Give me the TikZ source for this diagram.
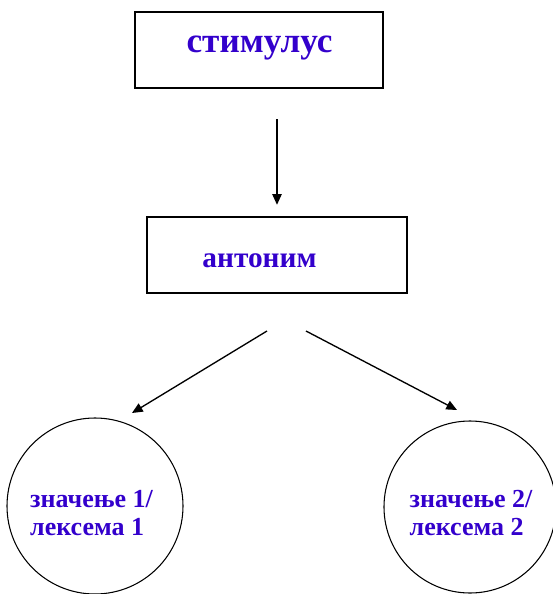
\documentclass[tikz,border=0pt]{standalone}
\usepackage{fontspec}
\setmainfont{Liberation Serif}
\usetikzlibrary{arrows.meta}
\definecolor{wordblue}{RGB}{51,0,204}

\begin{document}
\begin{tikzpicture}[x=0.75pt,y=-0.75pt,>={Triangle[length=8pt,width=7pt]},
		box/.style={draw, line width=1.8pt, minimum height=57pt},
		meaning/.style={draw, circle, line width=0.8pt, inner sep=0pt},
		word/.style={text=wordblue, font=\fontsize{22}{26}\selectfont\bfseries},
		meaningtext/.style={align=left, text=wordblue, font=\fontsize{19.5}{21}\selectfont\bfseries}]
		\useasboundingbox (0,0) rectangle (553,594);
		
		% boxes
		\node[box, minimum width=186pt] (stimulus) at (259,50) {};
		\node[word, anchor=base, font=\fontsize{26.4}{30}\selectfont\bfseries] (stimulustext) at (259.5,52) {стимулус};
		\node[box, minimum width=195pt] (antonym) at (277,255) {};
		\node[word, anchor=base] (antonymtext) at (259.5,267) {антоним};
		
		% circles
		\node[meaning, minimum size=132pt] (meaning1) at (95,506) {};
		\node[meaning, minimum size=129pt] (meaning2) at (470,507) {};
		\node[meaningtext] (meaning1text) at (91.5,513) {значење 1/\\лексема 1};
		\node[meaningtext] (meaning2text) at (471,513) {значење 2/\\лексема 2};
		
		% arrows
		\coordinate (forkleft) at (267,331);
		\coordinate (forkright) at (306,331);
		\coordinate (tipleft) at (132,413);
		\coordinate (tipright) at (457,410);
		\draw[->, line width=1pt] ([yshift=-22.5pt]stimulus.south -| antonym.north) -- ([yshift=8.25pt]antonym.north);
		\draw[->, line width=1pt] (forkleft) -- (tipleft);
		\draw[->, line width=1pt] (forkright) -- (tipright);
	\end{tikzpicture}
\end{document}
